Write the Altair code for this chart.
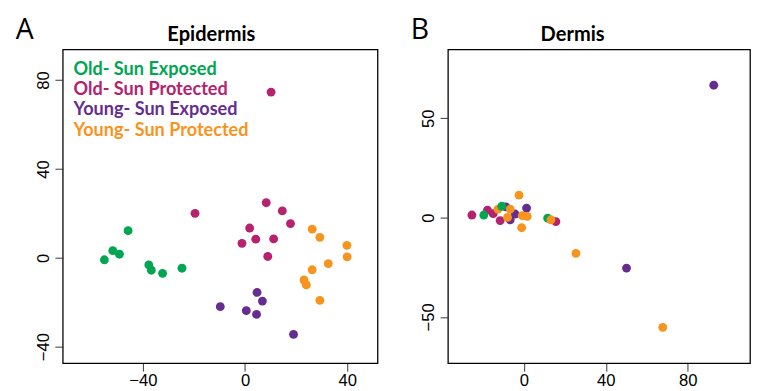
import altair as alt
import pandas as pd

groups = ["Old- Sun Exposed", "Old- Sun Protected", "Young- Sun Exposed", "Young- Sun Protected"]
colors = ["#00A651", "#B5226E", "#662D91", "#F7941D"]

# Panel A: Epidermis
epi_x = [-55.1, -51.8, -49.2, -45.8, -37.7, -36.7, -32.3, -24.7,
         10.2, -19.6, 8.3, 14.6, 17.8, 1.8, -1.2, 4.2, 11.2, 8.9,
         -9.7, 0.5, 4.5, 4.7, 6.8, 19.0,
         26.3, 29.3, 39.9, 40.0, 32.6, 26.3, 23.1, 24.0, 29.3]
epi_y = [-0.9, 3.2, 1.6, 12.2, -3.2, -5.6, -7.0, -4.7,
         74.6, 20.0, 24.8, 21.1, 15.4, 13.4, 6.5, 8.4, 8.5, 0.6,
         -22.0, -23.8, -25.5, -15.6, -19.5, -34.5,
         12.9, 9.2, 5.6, 0.4, -2.6, -5.4, -10.0, -12.2, -19.2]
epi_g = [0] * 8 + [1] * 10 + [2] * 6 + [3] * 9

# Panel B: Dermis
der_x = [-25.4, -15.0, -17.8, -11.6, 15.6,
         -19.6, 11.6,
         -8.8, -6.7, -4.3, 1.3, 50.1, 92.7,
         -12.7, -8.0, -6.7, -2.4, -0.8, 1.6, -1.1, 13.2, 25.4, 67.8,
         -10.8]
der_y = [1.3, 2.0, 3.8, -1.5, -2.0,
         1.3, -0.3,
         5.4, -1.1, 1.8, 4.8, -25.4, 66.6,
         4.3, 0.1, 4.3, 11.3, 1.0, 0.6, -5.1, -1.1, -18.0, -55.2,
         5.7]
der_g = [1] * 5 + [0] * 2 + [2] * 6 + [3] * 10 + [0]

epi = pd.DataFrame({"x": epi_x, "y": epi_y, "group": [groups[i] for i in epi_g]})
der = pd.DataFrame({"x": der_x, "y": der_y, "group": [groups[i] for i in der_g]})

color_scale = alt.Scale(domain=groups, range=colors)
dummy = alt.Data(values=[{}])

AX = dict(grid=False, domain=False, tickSize=8, tickColor="#333333", tickWidth=1,
          labelFont="Liberation Sans", labelFontSize=17, labelColor="#000000", title=None)


def xaxis(vals):
    return alt.Axis(values=vals, labelPadding=2, **AX)


def yaxis(vals):
    return alt.Axis(values=vals, labelAngle=-90, labelAlign="center", labelBaseline="bottom",
                    labelPadding=3, **AX)


def text_layer(txt, x, y, size, weight="normal", font="Lato", color="#000000", align="left"):
    return alt.Chart(dummy).mark_text(
        text=txt, font=font, fontSize=size, fontWeight=weight, color=color,
        align=align, baseline="alphabetic"
    ).encode(x=alt.value(x), y=alt.value(y))


def points(df, xdom, ydom, xv, yv):
    return alt.Chart(df).mark_circle(size=82, opacity=1).encode(
        x=alt.X("x:Q", scale=alt.Scale(domain=xdom, nice=False, zero=False), axis=xaxis(xv)),
        y=alt.Y("y:Q", scale=alt.Scale(domain=ydom, nice=False, zero=False), axis=yaxis(yv)),
        color=alt.Color("group:N", scale=color_scale, legend=None),
    )


legend_layers = [
    text_layer(g, 11, 26 + 20.7 * i, 18.5, weight="bold", color=c)
    for i, (g, c) in enumerate(zip(groups, colors))
]

panel_a = alt.layer(
    points(epi, [-71.4, 51.9], [-47.5, 93.8], [-40, 0, 40], [-40, 0, 40, 80]),
    *legend_layers,
    text_layer("Epidermis", 152, -9, 20.5, weight="bold", align="center"),
    text_layer("A", -48, -10.5, 29, font="Open Sans"),
).properties(width=322, height=321)

panel_b = alt.layer(
    points(der, [-37.1, 110.4], [-73.3, 84.6], [0, 40, 80], [-50, 0, 50]),
    text_layer("Dermis", 127.5, -9, 20.5, weight="bold", align="center"),
    text_layer("B", -38, -10.5, 29, font="Open Sans"),
).properties(width=309, height=321)

chart = alt.hconcat(panel_a, panel_b, spacing=32).properties(
    padding={"left": 7, "top": 3, "right": 0, "bottom": 0}
).configure_view(stroke="#000000", strokeWidth=1.3)

chart.save("out.html", embed_options={"renderer": "svg", "actions": False})
